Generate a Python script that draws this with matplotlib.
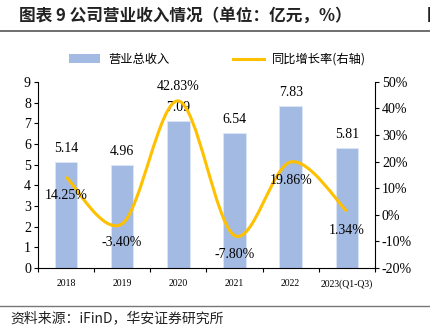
import numpy as np
import matplotlib
matplotlib.use('Agg')
import matplotlib.pyplot as plt
from matplotlib.path import Path
from matplotlib.patches import PathPatch, Patch
from matplotlib.lines import Line2D

plt.rcParams['font.family'] = ['Liberation Serif', 'Noto Sans CJK SC']

# 营业总收入（亿元）与同比增长率（%）
years = ['2018', '2019', '2020', '2021', '2022', '2023(Q1-Q3)']
revenue = [5.14, 4.96, 7.09, 6.54, 7.83, 5.81]
growth = [14.25, -3.40, 42.83, -7.80, 19.86, 1.34]

BAR_COLOR = '#A3BBE3'
LINE_COLOR = '#FFC000'
CJK = ['Noto Sans CJK SC', 'DejaVu Sans']


def smooth_path(xs, ys):
    """按 Catmull-Rom 方式生成三次贝塞尔控制点，得到平滑折线"""
    pts = np.column_stack([xs, ys]).astype(float)
    verts = [pts[0]]
    codes = [Path.MOVETO]
    n = len(pts)
    for i in range(n - 1):
        p0 = pts[i - 1] if i > 0 else pts[i]
        p1 = pts[i]
        p2 = pts[i + 1]
        p3 = pts[i + 2] if i + 2 < n else pts[i + 1]
        c1 = p1 + (p2 - p0) / 6.0
        c2 = p2 - (p3 - p1) / 6.0
        verts += [c1, c2, p2]
        codes += [Path.CURVE4] * 3
    return Path(verts, codes)


fig = plt.figure(figsize=(4.3, 3.3), dpi=100)
ax = fig.add_axes([0.088, 0.188, 0.784, 0.564])
x = np.arange(len(years))

ax.bar(x, revenue, width=0.4, color=BAR_COLOR, edgecolor='#DCE6F5', linewidth=0.6, zorder=2)
ax.set_xlim(-0.5, len(years) - 0.5)
ax.set_ylim(0, 9)
ax.set_yticks(range(0, 10))
ax.tick_params(axis='y', labelsize=10, length=3, width=0.8, pad=2)
ax.set_xticks(x)
ax.set_xticklabels(years, fontsize=7)
ax.tick_params(axis='x', length=0, pad=8)
ax.set_xticks(np.arange(-0.5, len(years)), minor=True)
ax.tick_params(axis='x', which='minor', length=3, width=0.8, direction='out')
for s in ['top', 'right']:
    ax.spines[s].set_visible(False)
for s in ['left', 'bottom']:
    ax.spines[s].set_linewidth(0.8)

for xi, v in zip(x, revenue):
    ax.annotate(f'{v:.2f}', (xi, v), xytext=(0, 5), textcoords='offset points',
                ha='center', va='bottom', fontsize=10, zorder=5)

ax2 = ax.twinx()
ax2.set_ylim(-20, 50)
ax2.set_yticks(range(-20, 60, 10))
ax2.set_yticklabels([f'{t}%' for t in range(-20, 60, 10)])
ax2.tick_params(axis='y', labelsize=10, length=3, width=0.8, pad=2)
for s in ['top', 'left', 'bottom']:
    ax2.spines[s].set_visible(False)
ax2.spines['right'].set_linewidth(0.8)

ax2.add_patch(PathPatch(smooth_path(x, growth), facecolor='none', edgecolor=LINE_COLOR,
                        linewidth=2.2, capstyle='butt', zorder=3))

for i, (xi, g) in enumerate(zip(x, growth)):
    if i == 2:
        ax2.annotate(f'{g:.2f}%', (xi, g), xytext=(0, 6), textcoords='offset points',
                     ha='center', va='bottom', fontsize=10)
    else:
        ax2.annotate(f'{g:.2f}%', (xi, g), xytext=(0, -9), textcoords='offset points',
                     ha='center', va='top', fontsize=10)

handles = [Patch(facecolor=BAR_COLOR, edgecolor='none'),
           Line2D([0], [0], color=LINE_COLOR, linewidth=2.2)]
fig.legend(handles, ['营业总收入', '同比增长率(右轴)'], loc='center', ncol=2,
           bbox_to_anchor=(0.505, 0.82), frameon=False, prop={'family': CJK, 'size': 8.8},
           handlelength=2.6, columnspacing=5.2, handletextpad=0.6)

# 标题与来源
fig.text(0.045, 0.953, '图表 9 公司营业收入情况（单位：亿元，%）', fontsize=12,
         fontweight='bold', family=CJK, va='center', color='#222222')
fig.text(0.992, 0.953, '图', fontsize=12, fontweight='bold', family=CJK,
         va='center', color='#222222')
fig.add_artist(Line2D([0.0, 1.0], [0.906, 0.906], color='#555555', linewidth=1.2))
fig.add_artist(Line2D([0.0, 1.0], [0.073, 0.073], color='#777777', linewidth=1.0))
fig.text(0.025, 0.035, '资料来源：iFinD，华安证券研究所', fontsize=10, family=CJK,
         va='center', color='#222222')

fig.savefig('out.png', dpi=100)
